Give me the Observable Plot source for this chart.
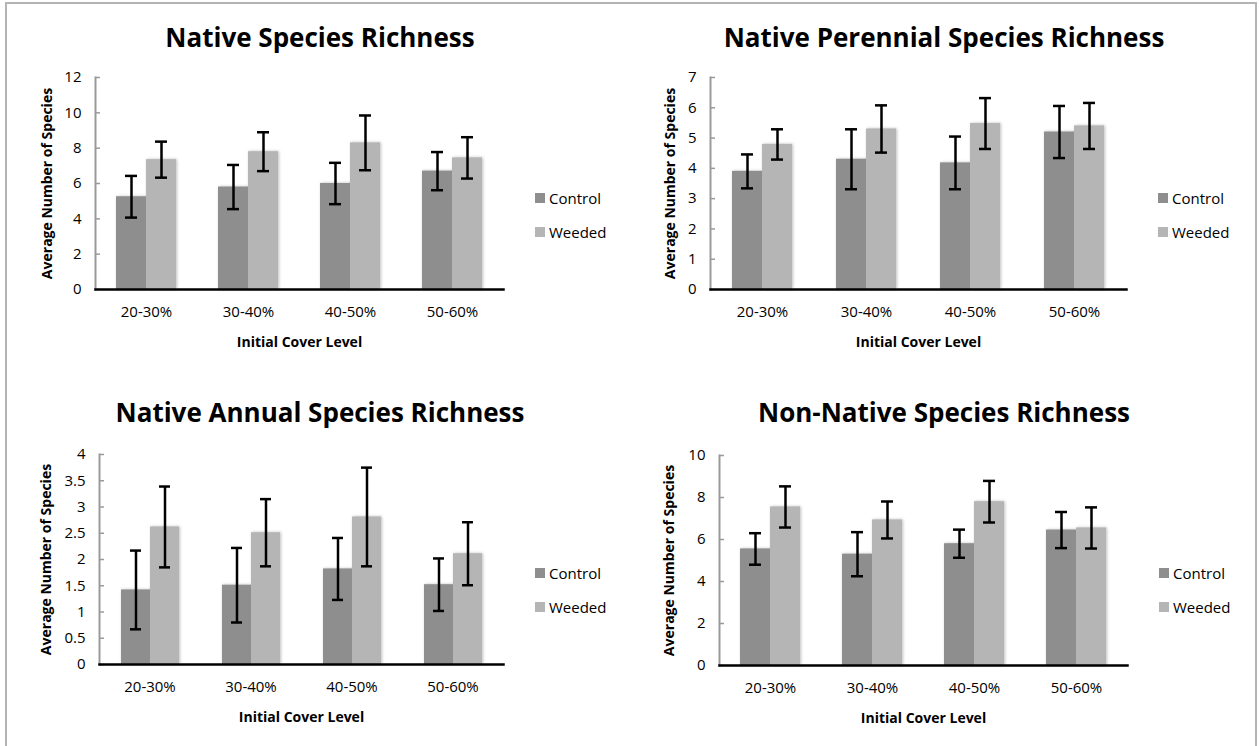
<!DOCTYPE html>
<html>
<head>
<meta charset="utf-8">
<script src="https://cdn.jsdelivr.net/npm/d3@7"></script>
<script src="https://cdn.jsdelivr.net/npm/@observablehq/plot@0.6"></script>
<style>
  body { margin: 0; background: #fff; font-family: "Open Sans", sans-serif; color: #000; }
  #root { position: relative; width: 1259px; height: 746px; overflow: hidden; background: #fff; }
  .frame { position: absolute; left: 5px; top: 2px; width: 1252px; height: 800px; border: 2px solid #b4b4b4; box-sizing: border-box; }
  .title { position: absolute; font-weight: bold; font-size: 26px; line-height: 26px; white-space: nowrap; transform: translateX(-50%); }
  .panel { position: absolute; }
  .item { position: absolute; height: 10px; display: flex; align-items: center; white-space: nowrap; font-size: 15px; }
  .sw { width: 10px; height: 10px; display: inline-block; }
  .lab { margin-left: 4px; line-height: 1; }
</style>
</head>
<body>
<div id="root"><div class="frame"></div></div>
<script>
// ---------- data ----------
const categories = ["20-30%", "30-40%", "40-50%", "50-60%"];
const treatments = ["Control", "Weeded"];

const nativeControl     = [5.25, 5.8, 6.0, 6.7];
const nativeControlErr  = [1.18, 1.25, 1.17, 1.08];
const nativeWeeded      = [7.35, 7.8, 8.3, 7.45];
const nativeWeededErr   = [1.02, 1.1, 1.55, 1.17];
const nativeTicks       = [0, 2, 4, 6, 8, 10, 12];

const perennialControl    = [3.9, 4.3, 4.18, 5.2];
const perennialControlErr = [0.56, 0.99, 0.87, 0.86];
const perennialWeeded     = [4.79, 5.3, 5.48, 5.4];
const perennialWeededErr  = [0.5, 0.78, 0.84, 0.76];
const perennialTicks      = [0, 1, 2, 3, 4, 5, 6, 7];

const annualControl    = [1.42, 1.51, 1.82, 1.52];
const annualControlErr = [0.75, 0.71, 0.59, 0.5];
const annualWeeded     = [2.62, 2.51, 2.81, 2.11];
const annualWeededErr  = [0.77, 0.64, 0.94, 0.6];
const annualTicks      = [0, 0.5, 1, 1.5, 2, 2.5, 3, 3.5, 4];

const nonNativeControl    = [5.55, 5.3, 5.8, 6.45];
const nonNativeControlErr = [0.75, 1.05, 0.67, 0.86];
const nonNativeWeeded     = [7.55, 6.93, 7.8, 6.55];
const nonNativeWeededErr  = [0.98, 0.88, 0.99, 0.98];
const nonNativeTicks      = [0, 2, 4, 6, 8, 10];

const titles = ["Native Species Richness", "Native Perennial Species Richness", "Native Annual Species Richness", "Non-Native Species Richness"];
const yLabel = "Average Number of Species";
const xLabel = "Initial Cover Level";

// ---------- layout ----------
const colors = ["#8e8e8e", "#b5b5b5"];
const panels = [
  {title: titles[0], control: nativeControl, controlErr: nativeControlErr, weeded: nativeWeeded, weededErr: nativeWeededErr, ticks: nativeTicks,
   tx: 320, ty: 23.5, left: 0, top: 60, w: 540, h: 300, ml: 94, mr: 37, mt: 17, mb: 71, ylo: 53, lx: 535, ly: 193},
  {title: titles[1], control: perennialControl, controlErr: perennialControlErr, weeded: perennialWeeded, weededErr: perennialWeededErr, ticks: perennialTicks,
   tx: 944, ty: 23.5, left: 620, top: 60, w: 540, h: 300, ml: 88, mr: 33, mt: 17, mb: 71, ylo: 45, lx: 1158, ly: 193},
  {title: titles[2], control: annualControl, controlErr: annualControlErr, weeded: annualWeeded, weededErr: annualWeededErr, ticks: annualTicks,
   tx: 320, ty: 398.5, left: 0, top: 440, w: 540, h: 300, ml: 98, mr: 37, mt: 14, mb: 76, ylo: 58, lx: 535, ly: 568},
  {title: titles[3], control: nonNativeControl, controlErr: nonNativeControlErr, weeded: nonNativeWeeded, weededErr: nonNativeWeededErr, ticks: nonNativeTicks,
   tx: 944, ty: 398.5, left: 620, top: 440, w: 540, h: 300, ml: 98, mr: 33, mt: 15, mb: 75, ylo: 55, lx: 1159, ly: 568}
];

const root = document.getElementById("root");

function chart(p) {
  const rows = [];
  categories.forEach((c, i) => {
    rows.push({cover: c, treatment: treatments[0], mean: p.control[i], err: p.controlErr[i]});
    rows.push({cover: c, treatment: treatments[1], mean: p.weeded[i], err: p.weededErr[i]});
  });
  const yMax = p.ticks[p.ticks.length - 1];
  const svg = Plot.plot({
    width: p.w, height: p.h,
    marginLeft: p.ml, marginRight: p.mr, marginTop: p.mt, marginBottom: p.mb,
    style: {fontFamily: "Open Sans", fontSize: "15px", color: "#000", background: "transparent", overflow: "visible"},
    fx: {domain: categories, padding: 0, axis: null},
    x: {domain: treatments, paddingInner: 0, paddingOuter: 0.7, axis: null},
    y: {domain: [0, yMax], axis: null},
    color: {domain: treatments, range: colors},
    marks: [
      Plot.barY(rows, {fx: "cover", x: "treatment", y: "mean", fill: "treatment"}),
      Plot.ruleX(rows, {fx: "cover", x: "treatment", y1: d => d.mean - d.err, y2: d => d.mean + d.err, stroke: "#000", strokeWidth: 2.5}),
      Plot.tickY(rows, {fx: "cover", x: "treatment", y: d => d.mean + d.err, stroke: "#000", strokeWidth: 2.5, insetLeft: 9, insetRight: 9}),
      Plot.tickY(rows, {fx: "cover", x: "treatment", y: d => d.mean - d.err, stroke: "#000", strokeWidth: 2.5, insetLeft: 9, insetRight: 9}),
      Plot.frame({anchor: "left", facet: "super", stroke: "#9a9a9a", strokeWidth: 2}),
      Plot.axisY(p.ticks, {anchor: "left", tickSize: -5, stroke: "#9a9a9a", strokeWidth: 1.5, fill: "none", label: null}),
      Plot.axisY(p.ticks, {anchor: "left", tickSize: 0, tickPadding: 14, label: null, tickFormat: d => `${d}`}),
      Plot.axisY([], {anchor: "left", tickSize: 0, label: yLabel, labelArrow: "none", labelAnchor: "center", labelOffset: p.ylo, fontWeight: "bold", fontSize: 14}),
      Plot.frame({anchor: "bottom", facet: "super", stroke: "#000", strokeWidth: 2.5}),
      Plot.axisFx({anchor: "bottom", tickSize: 0, tickPadding: 17, label: null}),
      Plot.axisFx([], {anchor: "bottom", tickSize: 0, label: xLabel, labelArrow: "none", labelAnchor: "center", labelOffset: 57, fontWeight: "bold", fontSize: 14})
    ]
  });
  svg.querySelectorAll('g[aria-label="bar"]').forEach(g => g.style.filter = "drop-shadow(1px 0px 1.5px rgba(0,0,0,0.25))");
  return svg;
}

panels.forEach(p => {
  const t = document.createElement("div");
  t.className = "title";
  t.style.left = p.tx + "px";
  t.style.top = p.ty + "px";
  t.textContent = p.title;
  root.appendChild(t);

  const wrap = document.createElement("div");
  wrap.className = "panel";
  wrap.style.left = p.left + "px";
  wrap.style.top = p.top + "px";
  wrap.appendChild(chart(p));
  root.appendChild(wrap);

  treatments.forEach((tr, i) => {
    const it = document.createElement("div");
    it.className = "item";
    it.style.left = p.lx + "px";
    it.style.top = (p.ly + i * 34) + "px";
    const sw = document.createElement("span");
    sw.className = "sw";
    sw.style.background = colors[i];
    const lab = document.createElement("span");
    lab.className = "lab";
    lab.textContent = tr;
    it.appendChild(sw);
    it.appendChild(lab);
    root.appendChild(it);
  });
});
</script>
</body>
</html>
